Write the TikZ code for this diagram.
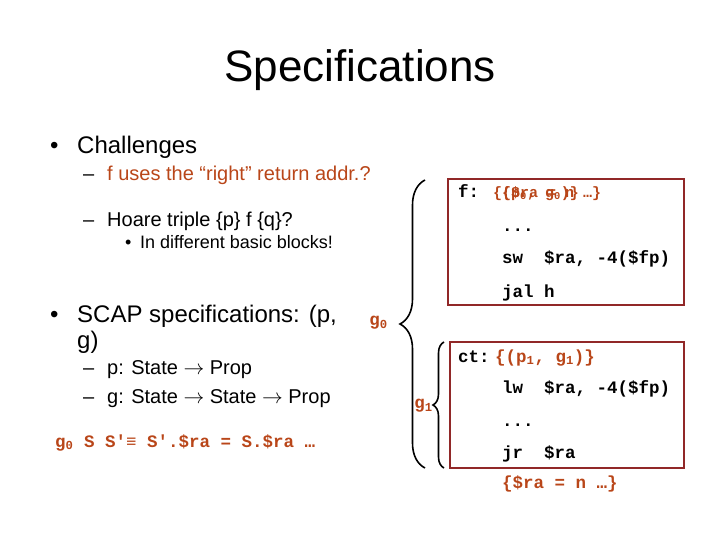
\documentclass[tikz,border=0pt]{standalone}
\usepackage{fontspec}
\setmainfont{Liberation Sans}
\setmonofont{Liberation Mono}
\usetikzlibrary{decorations.pathreplacing}

\definecolor{specred}{RGB}{185,70,25}
\definecolor{boxred}{RGB}{145,40,40}

\tikzset{
    slidetitle/.style={font=\fontsize{44}{48}\selectfont, anchor=base, inner sep=0pt},
    lvlone/.style={font=\fontsize{24}{28}\selectfont, anchor=base west, inner sep=0pt},
    lvltwo/.style={font=\fontsize{20}{24}\selectfont, anchor=base west, inner sep=0pt},
    lvlthree/.style={font=\fontsize{18}{22}\selectfont, anchor=base west, inner sep=0pt},
    code/.style={font=\ttfamily\bfseries\fontsize{17.5}{20}\selectfont, anchor=base west, inner sep=0pt},
    redcode/.style={code, text=specred},
    smallred/.style={font=\ttfamily\bfseries\fontsize{15}{17}\selectfont, text=specred, anchor=base west, inner sep=0pt},
    codebox/.style={draw=boxred, line width=2.5pt},
    bigbrace/.style={decorate, decoration={brace, amplitude=#1}, line width=1.6pt},
}

\begin{document}
\begin{tikzpicture}[x=1pt, y=-1pt]
    \useasboundingbox (0,0) rectangle (720,540);

    \node[slidetitle] (title) at (360,82) {Specifications};

    % challenges
    \node[lvlone] (bulA) at (50,154) {•};
    \node[lvlone] (chal) at (77,154) {Challenges};
    \node[lvltwo] (dashA) at (83,181) {–};
    \node[lvltwo, text=specred] (retaddr) at (107,181) {f uses the “right” return addr.?};
    \node[lvltwo] (dashB) at (83,226) {–};
    \node[lvltwo] (hoare) at (107,226) {Hoare triple \{p\} f \{q\}?};
    \node[lvlthree] (bulB) at (125,248) {•};
    \node[lvlthree] (blocks) at (140,248) {In different basic blocks!};

    % scap specifications
    \node[lvlone] (bulC) at (50,322) {•};
    \node[lvlone] (scap) at (77,322) {SCAP specifications: (p,};
    \node[lvlone] (scapg) at (77,348) {g)};
    \node[lvltwo] (dashC) at (83,374) {–};
    \node[lvltwo] (pspec) at (107,374) {p: State $\rightarrow$ Prop};
    \node[lvltwo] (dashD) at (83,403) {–};
    \node[lvltwo] (gspec) at (107,403) {g: State $\rightarrow$ State $\rightarrow$ Prop};

    \node[redcode] (gdef) at (55,447) {g\textsubscript{0} S S′≡ S′.\$ra = S.\$ra …};

    % code blocks
    \draw[codebox] (448,179) rectangle (684,305);
    \draw[codebox] (450,342) rectangle (684,468);

    \node[code] (flab) at (458,198) {f:};
    \node[smallred] (fpre) at (493,197) {\{(p\textsubscript{0}, g\textsubscript{0})\}};
    \node[smallred] (fpost) at (502,197) {\{\$ra = n …\}};
    \node[code] (dotsA) at (502,232) {...};
    \node[code] (sw) at (502,263) {sw\ \ \$ra, -4(\$fp)};
    \node[code] (jal) at (502,297) {jal h};

    \node[code] (ctlab) at (458,362) {ct:};
    \node[redcode] (ctspec) at (495,362) {\{(p\textsubscript{1}, g\textsubscript{1})\}};
    \node[code] (lw) at (502,393) {lw\ \ \$ra, -4(\$fp)};
    \node[code] (dotsB) at (502,426) {...};
    \node[code] (jr) at (502,458) {jr\ \ \$ra};
    \node[redcode] (post) at (502,488) {\{\$ra = n …\}};

    % braces
    \coordinate (gtop) at (425,180);
    \coordinate (gbot) at (425,468);
    \coordinate (htop) at (444,342);
    \coordinate (hbot) at (444,468);
    \draw[bigbrace=25pt] (gbot) -- (gtop);
    \draw[bigbrace=11pt] (hbot) -- (htop);
    \node[redcode, anchor=east] (gzero) at (388,323) {g\textsubscript{0}};
    \node[redcode, anchor=east] (gone) at (433,406) {g\textsubscript{1}};
\end{tikzpicture}
\end{document}
